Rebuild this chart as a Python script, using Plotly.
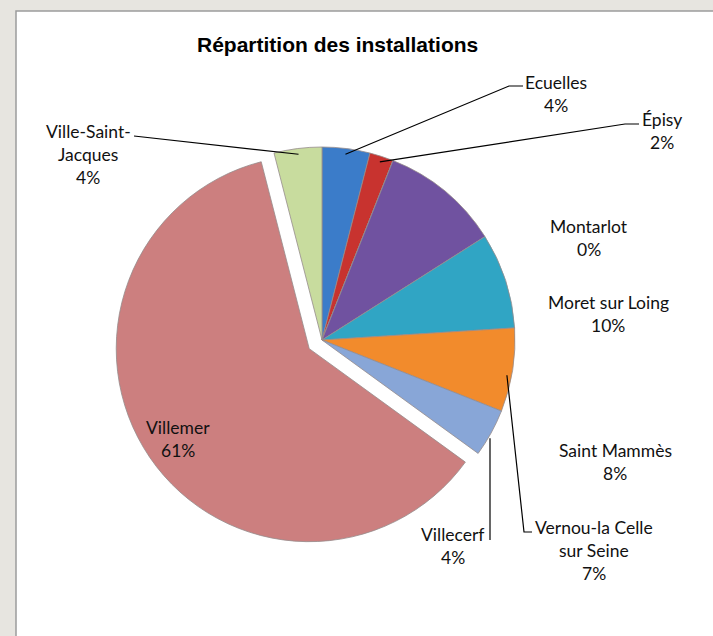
import math
import plotly.graph_objects as go

# ---- data ----
communes = ["Ecuelles", "Épisy", "Montarlot", "Moret sur Loing", "Saint Mammès",
            "Vernou-la Celle sur Seine", "Villecerf", "Villemer", "Ville-Saint-Jacques"]
label_lines = [["Ecuelles"], ["Épisy"], ["Montarlot"], ["Moret sur Loing"], ["Saint Mammès"],
               ["Vernou-la Celle", "sur Seine"], ["Villecerf"], ["Villemer"], ["Ville-Saint-", "Jacques"]]
parts = [4, 2, 0, 10, 8, 7, 4, 61, 4]
colors = ["#3b7cc9", "#c8332f", "#9bbb59", "#7052a0", "#30a5c4",
          "#f28b2c", "#88a6d7", "#cc7f7f", "#c8dc9e"]
pulls = [0, 0, 0, 0, 0, 0, 0, 0.08, 0]

W, H = 713, 636
CX, CY, R = 322, 340, 193          # pie centre / radius in px
maxpull = max(pulls)
half = R * (1 + maxpull)

# label placement (px): centre x, first-line y
label_pos = {
    "Ecuelles": (556, 82), "Épisy": (662, 119), "Montarlot": (589, 226),
    "Moret sur Loing": (608, 302), "Saint Mammès": (615, 450),
    "Vernou-la Celle sur Seine": (594, 527), "Villecerf": (453, 534),
    "Villemer": (178, 427), "Ville-Saint-Jacques": (88, 131),
}
LINE_H = 23
FONT = "Lato"
FSIZE = 17.5

fig = go.Figure()

fig.add_trace(go.Pie(
    labels=communes, values=parts, sort=False, direction="clockwise", rotation=0,
    marker=dict(colors=colors, line=dict(color="rgba(150,140,140,0.8)", width=1)),
    pull=pulls, textinfo="none", hoverinfo="label+percent", showlegend=False,
    domain=dict(x=[(CX - half) / W, (CX + half) / W],
                y=[1 - (CY + half) / H, 1 - (CY - half) / H]),
))

# invisible scatter to enable pixel axes
fig.add_trace(go.Scatter(x=[0, W], y=[0, H], mode="markers",
                         marker=dict(opacity=0), hoverinfo="skip", showlegend=False))

shapes = [dict(type="rect", xref="x", yref="y", x0=16, y0=11, x1=W + 5, y1=H + 5,
               fillcolor="white", line=dict(color="#9c9c9c", width=1.5), layer="below")]

annotations = [dict(text="<b>Répartition des installations</b>", x=337, y=44, xref="x", yref="y",
                    showarrow=False, font=dict(family="Liberation Sans, Arial", size=21, color="#000"),
                    xanchor="center", yanchor="middle")]

total = sum(parts)
cum = 0
anchors = {}
for name, lines, v in zip(communes, label_lines, parts):
    pct = f"{round(100 * v / total)}%"
    lx, ly = label_pos[name]
    for i, t in enumerate(lines + [pct]):
        annotations.append(dict(text=t, x=lx, y=ly + i * LINE_H, xref="x", yref="y",
                                showarrow=False, xanchor="center", yanchor="middle",
                                font=dict(family=FONT, size=FSIZE, color="#111")))
    mid = (cum + v / 2) / total * 2 * math.pi
    anchors[name] = (CX + 0.97 * R * math.sin(mid), CY - 0.97 * R * math.cos(mid))
    cum += v

def poly(pts):
    path = "M " + " L ".join(f"{x},{y}" for x, y in pts)
    return dict(type="path", xref="x", yref="y", path=path,
                line=dict(color="black", width=1.2))

ax, ay = anchors["Ecuelles"]
shapes.append(poly([(ax, ay), (509, 86), (523, 86)]))
ax, ay = anchors["Épisy"]
shapes.append(poly([(ax, ay), (625, 124), (639, 124)]))
ax, ay = anchors["Ville-Saint-Jacques"]
shapes.append(poly([(ax, ay), (134, 136)]))
ax, ay = anchors["Villecerf"]
shapes.append(poly([(490, ay + 8), (490, 540)]))
ax, ay = anchors["Vernou-la Celle sur Seine"]
shapes.append(poly([(ax, ay + 6), (524, 532), (532, 532)]))

fig.update_layout(
    width=W, height=H, margin=dict(l=0, r=0, t=0, b=0),
    paper_bgcolor="#e7e5e0", plot_bgcolor="rgba(0,0,0,0)",
    xaxis=dict(range=[0, W], visible=False, domain=[0, 1], fixedrange=True),
    yaxis=dict(range=[H, 0], visible=False, domain=[0, 1], fixedrange=True),
    shapes=shapes, annotations=annotations,
)

fig.write_html("out.html", post_script="document.body.style.margin='0';",
               config={"displayModeBar": False})
